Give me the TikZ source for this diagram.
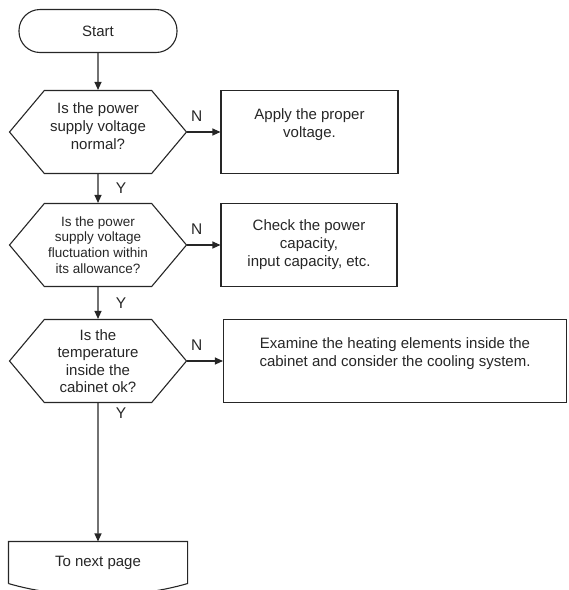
\documentclass[tikz,border=0pt]{standalone}
\usepackage{fontspec}
\setmainfont{Liberation Sans}
\usetikzlibrary{arrows.meta, positioning, shapes.symbols}

\begin{document}
\begin{tikzpicture}[
    x=1pt, y=-1pt,
    color=black!85, line width=1.1pt,
    font=\fontsize{15}{18}\selectfont,
    term/.style={rectangle, draw, rounded corners=21pt, minimum width=158pt, minimum height=43pt},
    decision/.style={signal, signal to=east and west, signal pointer angle=100, draw, align=center, minimum width=177pt, minimum height=83pt, inner sep=0pt},
    actbox/.style={rectangle, draw, align=center, minimum height=83pt},
    docbox/.style={rectangle, minimum width=178pt, minimum height=41pt},
    arrow/.style={-{Triangle[length=8pt, width=7pt]}},
    yn/.style={font=\fontsize{15.5}{18}\selectfont}
]
\useasboundingbox (0,0) rectangle (569,590);

% Start
\node[term] (start) at (98,31) {Start};

% Checks (left column)
\node[decision] (q1) at (98,132) {Is the power\\supply voltage\\normal?\\[-6pt]\mbox{}};
\node[decision, font=\fontsize{13.5}{15.7}\selectfont] (q2) at (98,245) {Is the power\\supply voltage\\fluctuation within\\its allowance?};
\node[decision, font=\fontsize{15}{17.5}\selectfont] (q3) at (98,361) {Is the\\temperature\\inside the\\cabinet ok?};

% Remedies (right column)
\node[actbox, minimum width=177pt] (a1) at (309.5,132) {Apply the proper\\voltage.\\\mbox{}};
\node[actbox, minimum width=176pt] (a2) at (309,245) {Check the power\\capacity,\\input capacity, etc.};
\node[actbox, minimum width=343pt] (a3) at (395,361) {Examine the heating elements inside the\\cabinet and consider the cooling system.\\\mbox{}};

% Off-page document
\node[docbox] (next) at (98,562.5) {To next page};
\draw (next.south west) |- (next.north east) -- (next.south east)
    .. controls +(-55,16) and +(55,16) .. (next.south west);

% Yes path
\draw[arrow] (start) -- (q1);
\draw[arrow] (q1) -- node[right=14pt, yn] {Y} (q2);
\draw[arrow] (q2) -- node[right=14pt, yn] {Y} (q3);
\draw[arrow] (q3) -- node[pos=0.07, right=14pt, yn] {Y} (next);

% No branches
\draw[arrow] (q1.east) -- node[pos=0, above right=7pt and 0pt, yn] {N} (a1.west);
\draw[arrow] (q2.east) -- node[pos=0, above right=7pt and 0pt, yn] {N} (a2.west);
\draw[arrow] (q3.east) -- node[pos=0, above right=7pt and 0pt, yn] {N} (a3.west);

\end{tikzpicture}
\end{document}
